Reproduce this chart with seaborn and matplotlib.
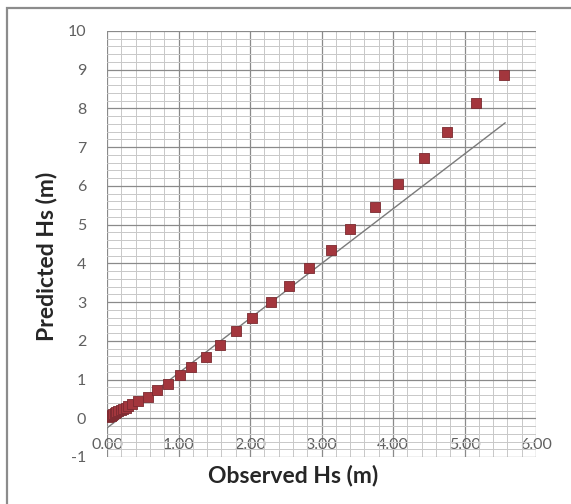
import matplotlib
matplotlib.use("Agg")
import matplotlib.pyplot as plt
from matplotlib.patches import Rectangle
from matplotlib.ticker import MultipleLocator, FormatStrFormatter
import seaborn as sns
import pandas as pd

# Observed vs predicted significant wave height
observed_hs = [0.01, 0.03, 0.05, 0.07, 0.09, 0.11, 0.13, 0.16, 0.19, 0.22,
               0.26, 0.30, 0.35, 0.44, 0.58, 0.70, 0.86, 1.02, 1.18, 1.38,
               1.58, 1.80, 2.03, 2.29, 2.55, 2.82, 3.13, 3.40, 3.75, 4.07,
               4.43, 4.76, 5.16, 5.55]
predicted_hs = [0.03, 0.05, 0.07, 0.09, 0.11, 0.13, 0.15, 0.18, 0.21, 0.24,
                0.27, 0.31, 0.36, 0.44, 0.56, 0.72, 0.88, 1.12, 1.33, 1.59,
                1.89, 2.25, 2.60, 3.00, 3.41, 3.88, 4.35, 4.89, 5.45, 6.06,
                6.71, 7.40, 8.13, 8.86]

# Linear trend line end points
trend_x = [0.00, 5.57]
trend_y = [-0.25, 7.63]

x_ticks = [0, 1, 2, 3, 4, 5, 6]
y_ticks = [-1, 0, 1, 2, 3, 4, 5, 6, 7, 8, 9, 10]

points = pd.DataFrame({"Observed Hs (m)": observed_hs, "Predicted Hs (m)": predicted_hs})
trend = pd.DataFrame({"x": trend_x, "y": trend_y})

sns.set_theme(style="white")
plt.rcParams["font.family"] = ["Lato", "DejaVu Sans"]
plt.rcParams["axes.unicode_minus"] = False

fig = plt.figure(figsize=(5.71, 5.04), dpi=100)
ax = fig.add_axes([107 / 571, 1 - 457 / 504, 429 / 571, 426 / 504])

# outer chart border
fig.patches.append(Rectangle((7 / 571, -0.1), 1.2, 1 - 8 / 504 + 0.1,
                             transform=fig.transFigure, fill=False,
                             edgecolor="#8c8c8c", linewidth=1.6, zorder=0))

ax.set_xlim(0, 6)
ax.set_ylim(-1, 10)
ax.xaxis.set_major_locator(MultipleLocator(1))
ax.xaxis.set_minor_locator(MultipleLocator(0.2))
ax.yaxis.set_major_locator(MultipleLocator(1))
ax.yaxis.set_minor_locator(MultipleLocator(0.2))
ax.xaxis.set_major_formatter(FormatStrFormatter("%.2f"))
ax.set_yticks(y_ticks)
ax.set_xticks(x_ticks)

ax.grid(which="major", color="#8a8a8a", linewidth=0.9)
ax.grid(which="minor", color="#c8c8c8", linewidth=0.7)
ax.set_axisbelow(True)
for s in ax.spines.values():
    s.set_visible(False)
ax.spines["bottom"].set_position(("data", 0))

sns.lineplot(data=trend, x="x", y="y", ax=ax, color="#7a7a7a", linewidth=1.0, zorder=2)
sns.scatterplot(data=points, x="Observed Hs (m)", y="Predicted Hs (m)", ax=ax,
                marker="s", s=44, color="#a3363d", edgecolor="#7a2a30",
                linewidth=0.6, zorder=3)

ax.tick_params(axis="x", which="both", length=0, pad=14, labelsize=11.5, labelcolor="#606060")
ax.tick_params(axis="y", which="both", length=0, pad=15, labelsize=11.5, labelcolor="#606060")

ax.set_xlabel("Observed Hs (m)", fontsize=16.5, fontweight="bold", color="#262626", va="center")
ax.set_ylabel("Predicted Hs (m)", fontsize=16.5, fontweight="bold", color="#262626", va="center")
ax.xaxis.set_label_coords((293 - 107) / 429, (457 - 476) / 426)
ax.yaxis.set_label_coords((47 - 107) / 429, (457 - 256) / 426)

fig.savefig("out.png", dpi=100)
